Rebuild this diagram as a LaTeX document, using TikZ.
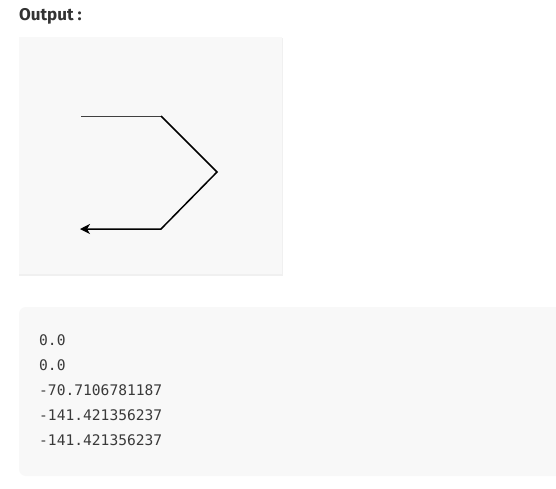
\documentclass[tikz,border=0pt]{standalone}
\usepackage{fontspec}
\setmainfont{Fira Sans}
\newfontfamily\codefont{DejaVu Sans Mono}
\usetikzlibrary{arrows.meta}
\definecolor{panelbg}{HTML}{F8F8F8}
\definecolor{titlecol}{HTML}{333333}
\definecolor{codecol}{HTML}{3A3A3A}
\tikzset{
  panel/.style={fill=panelbg, draw=none},
  codeline/.style={anchor=base west, inner sep=0pt, font=\codefont\fontsize{14.6}{16}\selectfont, text=codecol},
  thinline/.style={draw=black!75, line width=0.9pt},
  turtleline/.style={draw=black, line width=1.5pt, line join=miter}
}
\begin{document}
\begin{tikzpicture}[x=1pt,y=-1pt]
\useasboundingbox (0,0) rectangle (556,488);
\fill[white] (0,0) rectangle (556,488);
% title
\node[anchor=base west, inner sep=0pt, text=titlecol, font=\bfseries\fontsize{17}{20}\selectfont] (title) at (19,20) {Output :};
% drawing panel with soft shadow
\fill[black!6] (18.5,37.5) rectangle (283,275.5);
\fill[panelbg] (19,37) rectangle (282,274);
\coordinate (p0) at (81,116);
\coordinate (p1) at (161,116);
\coordinate (p2) at (217,172);
\coordinate (p3) at (161,229);
\coordinate (p4) at (80,229);
\draw[thinline] (p0) -- (p1);
\draw[turtleline, -{Stealth[length=10pt,width=10pt,inset=3pt]}] (p1) -- (p2) -- (p3) -- (p4);
% output panel
\fill[panel, rounded corners=7pt] (19,307) rectangle (570,476);
\node[codeline] (l1) at (39,345) {0.0};
\node[codeline] (l2) at (39,370) {0.0};
\node[codeline] (l3) at (39,395) {-70.7106781187};
\node[codeline] (l4) at (39,420) {-141.421356237};
\node[codeline] (l5) at (39,445) {-141.421356237};
\end{tikzpicture}
\end{document}
